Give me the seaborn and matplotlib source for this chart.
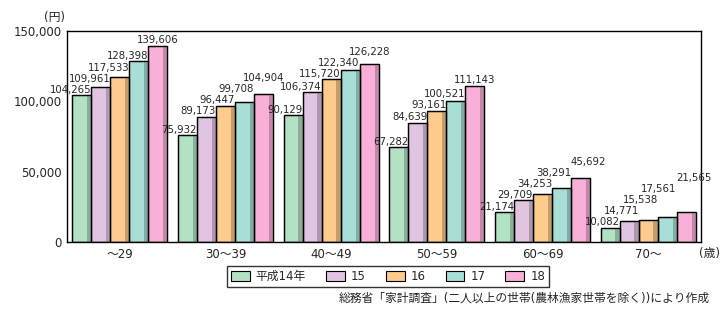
import numpy as np
import pandas as pd
import matplotlib
matplotlib.use("Agg")
import matplotlib.pyplot as plt
import seaborn as sns
from matplotlib.patches import Rectangle
from matplotlib.ticker import FuncFormatter, FixedLocator
import matplotlib.colors as mcolors

ages = ["～29", "30～39", "40～49", "50～59", "60～69", "70～"]
years = ["平成14年", "15", "16", "17", "18"]
v14 = [104265, 75932, 90129, 67282, 21174, 10082]
v15 = [109961, 89173, 106374, 84639, 29709, 14771]
v16 = [117533, 96447, 115720, 93161, 34253, 15538]
v17 = [128398, 99708, 122340, 100521, 38291, 17561]
v18 = [139606, 104904, 126228, 111143, 45692, 21565]
series = [v14, v15, v16, v17, v18]
colors = ["#b3e1c4", "#e1c4e1", "#fdcb8d", "#a9ded6", "#f9b0d8"]

rows = []
for y, vals in zip(years, series):
    for a, v in zip(ages, vals):
        rows.append({"age": a, "year": y, "value": v})
df = pd.DataFrame(rows)

sns.set_style("white")
plt.rcParams["font.family"] = ["DejaVu Sans", "Noto Sans CJK JP"]

fig = plt.figure(figsize=(7.23, 3.23), dpi=100)
ax = fig.add_axes([67/723, 1-242/323, (701-67)/723, (242-31)/323])

sns.barplot(data=df, x="age", y="value", hue="year", palette=colors,
            width=0.9, gap=0, edgecolor="black", linewidth=0.9,
            legend=False, ax=ax, saturation=1)

# shading strip on right side of bars
for j, cont in enumerate(ax.containers):
    dark = np.array(mcolors.to_rgb(colors[j])) * 0.72
    for bar in cont:
        x0 = bar.get_x(); w = bar.get_width(); h = bar.get_height()
        ax.add_patch(Rectangle((x0 + w*0.78, 0), w*0.22, h, facecolor=dark,
                               edgecolor="none", zorder=bar.get_zorder()+0.1, alpha=0.8))
        ax.add_patch(Rectangle((x0, 0), w, h, facecolor="none", edgecolor="black",
                               linewidth=0.9, zorder=bar.get_zorder()+0.2))

ax.set_ylim(0, 150000)
ax.set_xlim(-0.5, 5.5)

# value labels, stacked so they do not collide
px = 150000 / 211.0
step = 11 * px
pad = 0.5 * px
ncat = len(ages)
for i in range(ncat):
    prev = -1e9
    for j, (cont, vals) in enumerate(zip(ax.containers, series)):
        bar = cont[i]
        v = vals[i]
        x0 = bar.get_x(); w = bar.get_width()
        ypos = max(v + pad, prev + step)
        prev = ypos
        if j < 4:
            x, ha = x0 + w, "right"
        else:
            if v < 50000:
                x, ha = x0, "left"
            else:
                x, ha = x0 + w/2, "center"
        ax.text(x, ypos, f"{v:,}", ha=ha, va="bottom", fontsize=7.3, zorder=10)

ax.set_yticks([0, 50000, 100000, 150000])
ax.yaxis.set_major_formatter(FuncFormatter(lambda v, p: f"{int(v):,}"))
ax.set_xlabel("")
ax.set_ylabel("")
ax.xaxis.set_minor_locator(FixedLocator([0.5, 1.5, 2.5, 3.5, 4.5]))
ax.tick_params(axis="x", which="major", length=0, labelsize=8.5, pad=4)
ax.tick_params(axis="x", which="minor", direction="in", length=4, width=1, color="black")
ax.tick_params(axis="y", direction="in", length=4, width=1, labelsize=8.5, pad=4, color="black")
for s in ax.spines.values():
    s.set_color("black")
    s.set_linewidth(1)

fig.text(55/723, 1-17/323, "(円)", ha="center", va="center", fontsize=8.5)
fig.text(709/723, 1-253/323, "(歳)", ha="center", va="center", fontsize=8.5)

handles = [Rectangle((0, 0), 1, 1, facecolor=c, edgecolor="black", linewidth=0.8) for c in colors]
leg = fig.legend(handles, years, loc="center", bbox_to_anchor=(388/723, 1-276.5/323),
                 ncol=5, frameon=True, fancybox=False, edgecolor="black", fontsize=8.5,
                 handlelength=1.6, handleheight=0.9, columnspacing=1.7, handletextpad=0.5,
                 borderpad=0.3)
leg.get_frame().set_linewidth(1)

fig.text(710/723, 1-298/323, "総務省「家計調査」(二人以上の世帯(農林漁家世帯を除く))により作成",
         ha="right", va="center", fontsize=8.5)

fig.savefig("out.png", dpi=100)
